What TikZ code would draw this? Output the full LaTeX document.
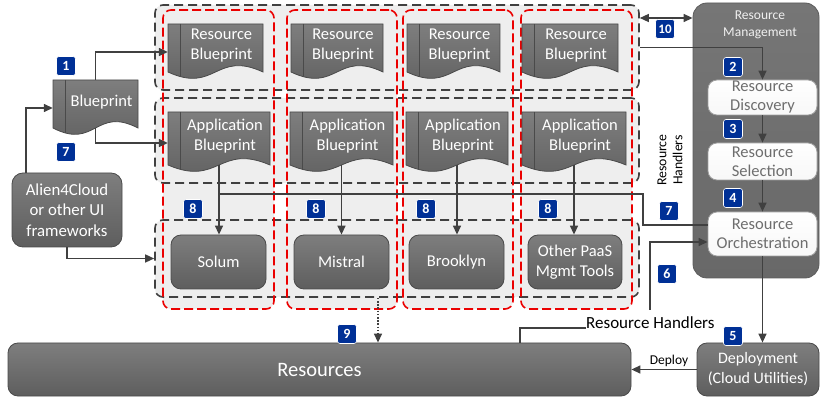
\documentclass[tikz,border=0pt]{standalone}
\usepackage{fontspec}
\setmainfont{Carlito}
\usetikzlibrary{arrows.meta,fit,calc}
\definecolor{badgeblue}{RGB}{0,48,150}
\definecolor{lgfill}{RGB}{238,238,238}
\definecolor{dkline}{RGB}{64,64,64}
\definecolor{boxtop}{RGB}{126,126,126}
\definecolor{boxbot}{RGB}{94,94,94}
\definecolor{boxline}{RGB}{74,74,74}
\definecolor{reddash}{RGB}{235,0,0}
\definecolor{paneltop}{RGB}{118,118,118}
\definecolor{panelbot}{RGB}{104,104,104}
\definecolor{wtext}{RGB}{110,110,110}
\newcommand\mkdoc[6]{%
 \path[docshade] (#2,#3) -- (#4,#3) -- (#4,#5) .. controls ({(#2+#4)/2},{#5-22}) and ({(#2+#4)/2},{#5+22}) .. (#2,#5) -- cycle;
 \begin{scope}
  \clip (#2,#3) -- (#4,#3) -- (#4,#5) .. controls ({(#2+#4)/2},{#5-22}) and ({(#2+#4)/2},{#5+22}) .. (#2,#5) -- cycle;
  \draw[docline] ({#2+12},#3) -- ({#2+12},{#5+20});
 \end{scope}
 \node[inner sep=0pt, fit={(#2,#3) (#4,#5)}] (#1) {};
 \node[doctext] at ({(#2+12+#4)/2},{(#3+#5)/2-2}) {#6};
}
\tikzset{
 conn/.style={draw=dkline, line width=1.4pt},
 arr/.style={conn, -{Triangle[length=9pt,width=8pt]}},
 twoarr/.style={conn, {Triangle[length=9pt,width=8pt]}-{Triangle[length=9pt,width=8pt]}},
 dotarr/.style={conn, dash pattern=on 1.6pt off 1.6pt, -{Triangle[length=9pt,width=8pt]}},
 rowbox/.style={draw=dkline, line width=1.6pt, dash pattern=on 9pt off 5pt, rounded corners=8pt, inner sep=0pt},
 colbox/.style={draw=reddash, line width=1.6pt, dash pattern=on 9pt off 4pt, rounded corners=8pt, inner sep=0pt},
 areafill/.style={fill=lgfill, rounded corners=8pt},
 docshade/.style={draw=boxline, line width=0.8pt, top color=boxtop, bottom color=boxbot},
 docline/.style={draw=boxline, line width=0.8pt},
 doctext/.style={text=white, align=center, font=\fontsize{16.5}{20}\selectfont},
 darkbox/.style={draw=boxline, line width=0.8pt, top color=boxtop, bottom color=boxbot, rounded corners=10pt, text=white, align=center, font=\fontsize{16.5}{20}\selectfont, inner sep=0pt},
 whitebox/.style={draw=gray!75, line width=0.8pt, top color=white, bottom color=gray!6, rounded corners=9pt, text=wtext, align=center, font=\fontsize{16.5}{19}\selectfont, inner sep=0pt},
 panel/.style={draw=boxline!90, line width=0.8pt, top color=paneltop, bottom color=panelbot, rounded corners=14pt, inner sep=0pt},
 badge/.style={fill=badgeblue, draw=white, line width=0.6pt, rounded corners=2.5pt, minimum size=19pt, inner sep=0pt, text=white, font=\fontsize{14}{14}\bfseries\selectfont},
}
\begin{document}
\begin{tikzpicture}[x=1pt,y=-1pt]
\useasboundingbox (0,0) rectangle (820,398);
% light areas
\path[areafill] (155,5) rectangle (639,90);
\path[areafill] (155,98) rectangle (639,183);
\path[areafill] (155,220) rectangle (639,297);
\path[areafill] (163,10) rectangle (274,309);
\path[areafill] (287,10) rectangle (397,309);
\path[areafill] (403,10) rectangle (513,309);
\path[areafill] (521,10) rectangle (632,309);
% dashed rows
\node[rowbox, minimum width=484pt, minimum height=85pt] (row1) at (397,47.5) {};
\node[rowbox, minimum width=484pt, minimum height=85pt] (row2) at (397,140.5) {};
\node[rowbox, minimum width=484pt, minimum height=77pt] (row3) at (397,258.5) {};
% red columns
\node[colbox, minimum width=111pt, minimum height=299pt] (col1) at (218.5,159.5) {};
\node[colbox, minimum width=110pt, minimum height=299pt] (col2) at (342,159.5) {};
\node[colbox, minimum width=110pt, minimum height=299pt] (col3) at (458,159.5) {};
\node[colbox, minimum width=111pt, minimum height=299pt] (col4) at (576.5,159.5) {};
% documents
\mkdoc{bp}{53}{80}{138}{128}{Blueprint}
\mkdoc{rb1}{168}{24}{263}{72}{Resource\\Blueprint}
\mkdoc{rb2}{291}{24}{383}{72}{Resource\\Blueprint}
\mkdoc{rb3}{407}{24}{500}{72}{Resource\\Blueprint}
\mkdoc{rb4}{522}{24}{618}{72}{Resource\\Blueprint}
\mkdoc{ab1}{168}{112}{270}{165}{Application\\Blueprint}
\mkdoc{ab2}{290}{112}{393}{165}{Application\\Blueprint}
\mkdoc{ab3}{406}{112}{508}{165}{Application\\Blueprint}
\mkdoc{ab4}{522}{112}{626}{165}{Application\\Blueprint}
% tools
\node[darkbox, minimum width=95pt, minimum height=54pt] (sol) at (218.5,262) {Solum};
\node[darkbox, minimum width=95pt, minimum height=54pt] (mis) at (341.5,262) {Mistral};
\node[darkbox, minimum width=95pt, minimum height=54pt] (bro) at (456.5,262) {Brooklyn};
\node[darkbox, minimum width=94pt, minimum height=54pt] (oth) at (575,262) {Other PaaS\\Mgmt Tools};
% left box
\node[darkbox, minimum width=110pt, minimum height=74pt, rounded corners=11pt, font=\fontsize{16.8}{20.5}\selectfont] (alien) at (67,210) {Alien4Cloud\\or other UI\\frameworks};
% bottom boxes
\node[darkbox, minimum width=623pt, minimum height=53pt, font=\fontsize{20.5}{24}\selectfont] (res) at (319.5,369.5) {Resources};
\node[darkbox, minimum width=122pt, minimum height=53pt, font=\fontsize{16}{20}\selectfont] (dep) at (758,369.5) {Deployment\\(Cloud Utilities)};
% resource management panel
\node[panel, minimum width=126pt, minimum height=275pt] (panel) at (756,140.5) {};
\node[text=white!94!black, align=center, font=\fontsize{13.5}{17}\selectfont] (rmt) at (760,24.5) {Resource\\Management};
\node[whitebox, minimum width=109pt, minimum height=35pt] (disc) at (762.5,97.5) {Resource\\Discovery};
\node[whitebox, minimum width=109pt, minimum height=37pt] (sel) at (762.5,161.5) {Resource\\Selection};
\node[whitebox, minimum width=109pt, minimum height=44pt] (orch) at (762.5,234) {Resource\\Orchestration};
% labels
\node[rotate=90, align=center, font=\fontsize{13.8}{16}\selectfont] (rhv) at (670,160) {Resource\\Handlers};
\node[anchor=base west, inner sep=0pt, font=\fontsize{17}{20}\selectfont] (rhl) at (586,328) {Resource Handlers};
\node[anchor=base, inner sep=0pt, font=\fontsize{13.5}{16}\selectfont] (dlbl) at (669,364) {Deploy};
\coordinate (h6) at (650,310);
% connectors
\draw[arr] (bp.north) |- ([yshift=-4pt]rb1.west);
\draw[arr] (bp.south) |- ([yshift=-4.5pt]ab1.west);
\draw[arr] (alien.north -| 26,0) |- ([yshift=-4pt]bp.west);
\draw[arr] (alien.south) |- (row3.west);
\draw[arr] (ab1.south) -- (ab1.south |- sol.north);
\draw[arr] (ab2.south) -- (ab2.south |- mis.north);
\draw[arr] (ab3.south) -- (ab3.south |- bro.north);
\draw[arr] (ab4.south) -- (ab4.south |- oth.north);
\draw[conn] (ab1.south |- 0,194) -| (643,225) -- (orch.west |- 0,225);
\draw[arr] (row1.east) -| (disc.north);
\draw[twoarr] (row1.east |- 0,18) -- (panel.west |- 0,18);
\draw[arr] (disc.south) -- (sel.north);
\draw[arr] (sel.south) -- (orch.north);
\draw[arr] (orch.south) -- (orch.south |- dep.north);
\draw[arr] (dep.west) -- (res.east);
\draw[arr] (h6) |- ([yshift=-8pt]orch.west);
\draw[conn] (res.north -| 520,0) |- (rhl.base west);
\draw[dotarr] (row3.south -| 378,0) -- (res.north -| 378,0);
% badges
\node[badge] (n1) at (66,66) {1};
\node[badge] (n7a) at (66,152) {7};
\node[badge] (n8a) at (193,209) {8};
\node[badge] (n8b) at (316,209) {8};
\node[badge] (n8c) at (426,209) {8};
\node[badge] (n8d) at (548,209) {8};
\node[badge] (n9) at (347,334) {9};
\node[badge, font=\fontsize{13}{13}\bfseries\selectfont] (n10) at (665,29) {10};
\node[badge] (n2) at (733,67) {2};
\node[badge] (n3) at (733,129) {3};
\node[badge] (n4) at (733,198) {4};
\node[badge] (n7b) at (669,211) {7};
\node[badge] (n6) at (667,274) {6};
\node[badge] (n5) at (733,336) {5};
\end{tikzpicture}
\end{document}
